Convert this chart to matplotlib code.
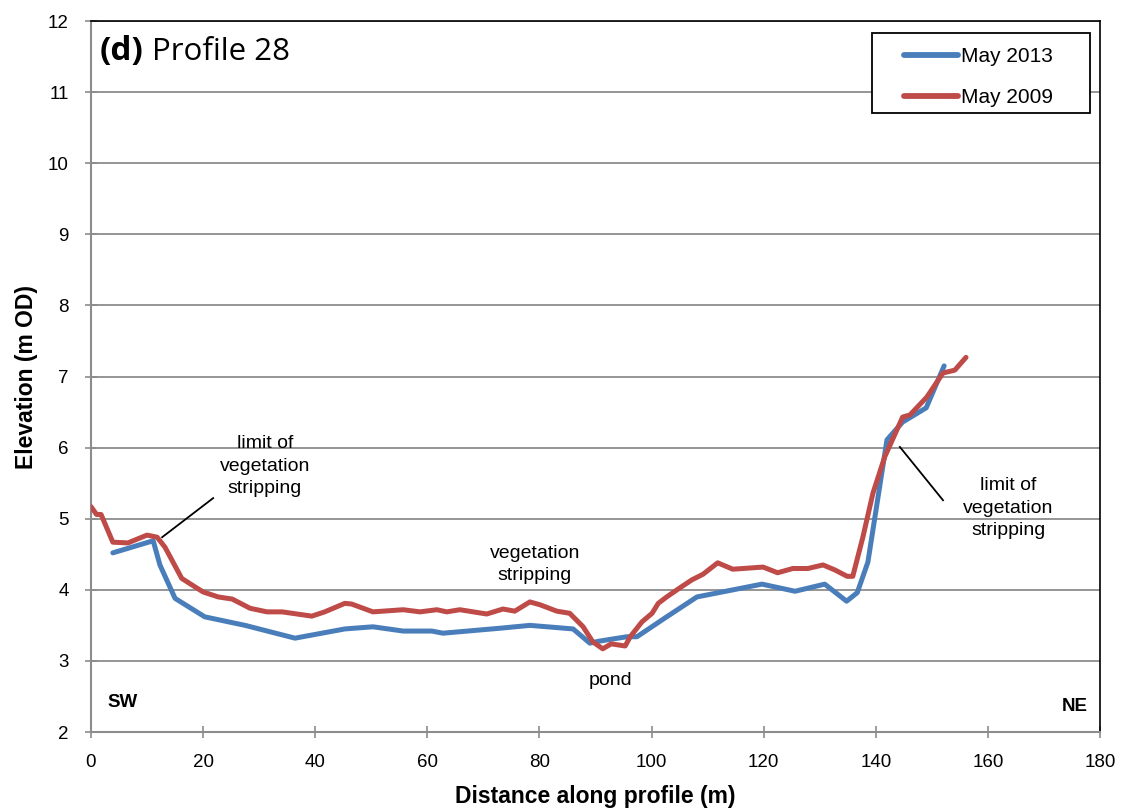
import matplotlib
matplotlib.use("Agg")
import matplotlib.pyplot as plt
from matplotlib.patches import Rectangle

# May 2013 (blue)
x2013 = [3.9, 11.1, 12.3, 15.0, 20.3, 27.5, 36.4, 45.3, 50.3, 55.7, 60.8, 62.8, 73.0, 78.3,
         86.0, 89.0, 90.8, 95.6, 97.4, 102.7, 108.1, 119.7, 125.6, 130.9, 134.8, 136.7,
         138.6, 142.0, 144.8, 149.0, 152.2]
y2013 = [4.52, 4.69, 4.35, 3.88, 3.62, 3.50, 3.32, 3.45, 3.48, 3.42, 3.42, 3.39, 3.46, 3.50,
         3.45, 3.25, 3.28, 3.34, 3.34, 3.62, 3.90, 4.08, 3.98, 4.08, 3.84, 3.96,
         4.39, 6.11, 6.36, 6.56, 7.15]

# May 2009 (red)
x2009 = [0.0, 1.0, 1.8, 3.9, 6.6, 10.0, 11.8, 13.2, 16.2, 20.0, 22.7, 25.2, 28.4, 31.4, 34.1,
         39.4, 41.7, 45.3, 46.5, 50.3, 55.7, 58.7, 61.7, 63.5, 65.8, 70.6, 73.5, 75.6, 78.3,
         80.1, 83.1, 85.4, 87.8, 89.5, 91.3, 92.8, 95.3, 96.2, 98.3, 100.1, 101.2, 102.7,
         105.1, 107.2, 109.2, 111.8, 114.5, 119.9, 122.5, 125.2, 127.9, 130.6, 132.7, 134.9,
         135.9, 137.7, 139.5, 141.6, 144.8, 146.1, 149.1, 152.0, 154.1, 156.1]
y2009 = [5.17, 5.06, 5.06, 4.67, 4.66, 4.77, 4.74, 4.60, 4.16, 3.97, 3.90, 3.87, 3.74, 3.69, 3.69,
         3.63, 3.69, 3.81, 3.80, 3.69, 3.72, 3.69, 3.72, 3.69, 3.72, 3.66, 3.73, 3.70, 3.83,
         3.79, 3.70, 3.67, 3.48, 3.27, 3.17, 3.24, 3.21, 3.34, 3.55, 3.67, 3.81, 3.90,
         4.03, 4.14, 4.22, 4.38, 4.29, 4.32, 4.24, 4.30, 4.30, 4.35, 4.28, 4.19,
         4.19, 4.74, 5.36, 5.87, 6.43, 6.46, 6.71, 7.05, 7.09, 7.27]

labels = ["May 2013", "May 2009"]
xticks = list(range(0, 181, 20))
yticks = list(range(2, 13))

plt.rcParams['font.family'] = ['Liberation Sans', 'DejaVu Sans']

FS = 13.5
fig = plt.figure(figsize=(11.23, 8.11), dpi=100)
ax = fig.add_axes([0.081, 0.0974, 0.8985, 0.8766])

ax.plot(x2013, y2013, color='#4A7EBB', lw=3.6, label=labels[0], solid_capstyle='round',
        solid_joinstyle='round', zorder=3)
ax.plot(x2009, y2009, color='#BE4B48', lw=3.6, label=labels[1], solid_capstyle='round',
        solid_joinstyle='round', zorder=4)

ax.set_xlim(0, 180)
ax.set_ylim(2, 12)
ax.set_xticks(xticks)
ax.set_yticks(yticks)
ax.yaxis.grid(True, color='#8c8c8c', lw=1.3)
ax.set_axisbelow(True)
ax.tick_params(labelsize=FS, length=8, width=1.2, direction='inout', color='#8c8c8c')
ax.tick_params(axis='x', pad=12)
ax.tick_params(axis='y', pad=12)
ax.spines['left'].set_color('#8c8c8c')
ax.spines['bottom'].set_color('#8c8c8c')
ax.spines['left'].set_linewidth(1.5)
ax.spines['bottom'].set_linewidth(1.5)
ax.spines['top'].set_color('black')
ax.spines['right'].set_color('black')
ax.spines['top'].set_linewidth(1.2)
ax.spines['right'].set_linewidth(1.2)

ax.set_xlabel('Distance along profile (m)', fontsize=16.5, fontweight='bold', labelpad=10)
ax.set_ylabel('Elevation (m OD)', fontsize=16.5, fontweight='bold', labelpad=7)

ax.text(1.5, 11.57, '(d)', fontsize=24, fontweight='bold', va='center', ha='left',
        family=['Open Sans', 'DejaVu Sans'])
ax.text(10.9, 11.57, 'Profile 28', fontsize=22.5, va='center', ha='left',
        family=['Open Sans', 'DejaVu Sans'])

# legend with a manually placed frame
ax.add_patch(Rectangle((0.774, 0.871), 0.216, 0.112, transform=ax.transAxes, facecolor='white',
                       edgecolor='black', lw=1.3, zorder=6))
leg = ax.legend(loc='upper left', bbox_to_anchor=(0.806, 0.9635), fontsize=15, frameon=False,
                handlelength=2.6, handletextpad=0.12, borderpad=0, borderaxespad=0,
                labelspacing=1.05)
leg.set_zorder(7)
for l in leg.get_lines():
    l.set_linewidth(4.2)

ax.text(31, 5.74, 'limit of\nvegetation\nstripping', fontsize=14, ha='center', va='center',
        linespacing=1.42)
ax.plot([21.8, 12.7], [5.29, 4.74], color='black', lw=1.3, zorder=5)
ax.text(79.2, 4.35, 'vegetation\nstripping', fontsize=14, ha='center', va='center', linespacing=1.38)
ax.text(92.6, 2.72, 'pond', fontsize=14, ha='center', va='center')
ax.text(163.6, 5.15, 'limit of\nvegetation\nstripping', fontsize=14, ha='center', va='center',
        linespacing=1.42)
ax.plot([144.3, 152.0], [6.01, 5.26], color='black', lw=1.3, zorder=5)
ax.text(5.7, 2.41, 'SW', fontsize=13.5, fontweight='bold', ha='center', va='center')
ax.text(175.5, 2.36, 'NE', fontsize=13.5, fontweight='bold', ha='center', va='center')

fig.savefig('out.png', dpi=100)
